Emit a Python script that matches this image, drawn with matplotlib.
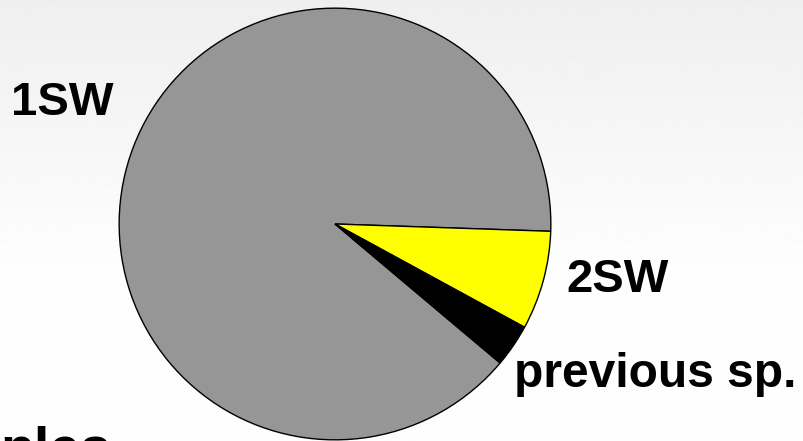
import numpy as np
import matplotlib.pyplot as plt

plt.rcParams['font.family'] = ['Liberation Sans', 'DejaVu Sans']

labels = ['1SW', '2SW', 'previous sp.']
values = [89.4, 7.4, 3.2]
colors = ['#969696', '#ffff00', '#000000']

W, H = 804, 441
fig = plt.figure(figsize=(W / 100, H / 100), dpi=100)

# background: light grey at top fading to near white
bg = fig.add_axes([0, 0, 1, 1])
grad = np.concatenate([np.linspace(0.937, 0.995, 160), np.full(96, 0.995)]).reshape(-1, 1)
bg.imshow(grad, cmap='gray', vmin=0, vmax=1, aspect='auto', extent=[0, 1, 0, 1], origin='upper')
bg.axis('off')

# pie, center (335, 224) px, radius 218 px
cx, cy, r = 335, 224, 218
ax = fig.add_axes([(cx - r) / W, (H - cy - r) / H, 2 * r / W, 2 * r / H])
ax.pie(values, colors=colors, startangle=-40.1, counterclock=False, radius=1,
       wedgeprops=dict(edgecolor='black', linewidth=1.0))
ax.set_xlim(-1.01, 1.01)
ax.set_ylim(-1.01, 1.01)
ax.axis('off')

def px_text(x, y, s, size):
    fig.text(x / W, 1 - y / H, s, fontsize=size, fontweight='bold',
             ha='left', va='baseline', color='black')

px_text(11, 115, labels[0], 34)
px_text(566, 292, labels[1], 34)
px_text(514, 387, labels[2], 34.5)
# title of the slide, cut off at the bottom edge in the original
px_text(0, 466, 'ples', 40)

fig.savefig('out.png', dpi=100)
